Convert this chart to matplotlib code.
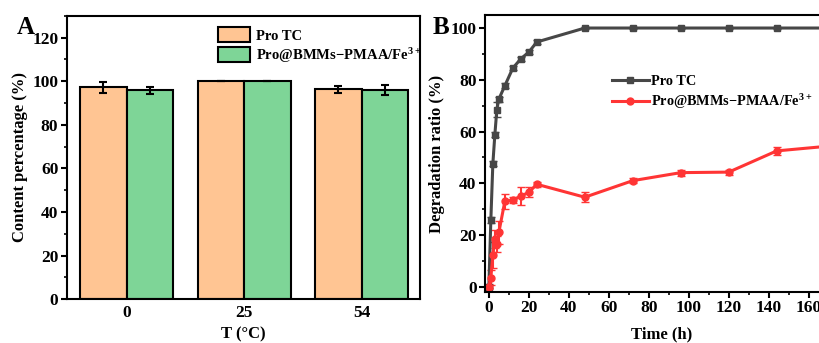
import matplotlib
matplotlib.use('Agg')
import matplotlib.pyplot as plt
from matplotlib.ticker import MultipleLocator, AutoMinorLocator
from matplotlib.lines import Line2D
import numpy as np

plt.rcParams['font.family'] = ['Liberation Serif', 'DejaVu Serif']
plt.rcParams['font.weight'] = 'bold'
plt.rcParams['axes.labelweight'] = 'bold'
plt.rcParams['mathtext.fontset'] = 'custom'
plt.rcParams['mathtext.rm'] = 'Liberation Serif:bold'
plt.rcParams['mathtext.bf'] = 'Liberation Serif:bold'
plt.rcParams['mathtext.default'] = 'bf'

# panel A: content vs temperature
temps = ['0', '25', '54']
tc_content = [97.1, 100.0, 96.2]
tc_err = [2.4, 0.0, 1.8]
pro_content = [95.8, 100.0, 96.0]
pro_err = [1.7, 0.0, 2.4]

# panel B: degradation vs time
time_h = [0, 1, 2, 3, 4, 5, 8, 12, 16, 20, 24, 48, 72, 96, 120, 144, 168]
tc_deg = [0, 25.8, 47.5, 58.7, 68.5, 72.5, 77.7, 84.5, 88.1, 90.7, 94.6,
          100, 100, 100, 100, 100, 100]
tc_deg_err = [0.5, 1.2, 1.0, 1.0, 3.0, 1.0, 1.0, 0.8, 0.8, 0.8, 0.6,
              0.3, 0.3, 0.3, 0.3, 0.3, 0.3]
pro_deg = [0, 3.5, 12.3, 18.3, 16.5, 21.0, 33.0, 33.5, 35.0, 36.5, 39.6,
           34.6, 41.0, 44.1, 44.3, 52.5, 54.2]
pro_deg_err = [1.0, 3.0, 5.0, 3.5, 3.0, 4.5, 2.8, 1.2, 3.5, 2.0, 1.0,
               2.0, 1.0, 1.2, 1.0, 1.5, 1.0]

names = ['Pro TC', 'Pro@BMMs\u2212PMAA/Fe$^{3+}$']

orange = '#FFC593'
green = '#7ED597'
gray = '#474747'
red = '#FF3535'

fig = plt.figure(figsize=(8.19, 3.43), dpi=100)
ax1 = fig.add_axes([0.0814, 0.128, 0.432, 0.826])
ax2 = fig.add_axes([0.592, 0.149, 0.432, 0.807])

# ---- A
x = np.arange(len(temps))
w = 0.395
ek = dict(ecolor='black', elinewidth=1.5, capsize=3, capthick=1.5)
ax1.bar(x - w / 2, tc_content, w, color=orange, edgecolor='black', lw=1.5,
        yerr=tc_err, error_kw=ek, label=names[0])
ax1.bar(x + w / 2, pro_content, w, color=green, edgecolor='black', lw=1.5,
        yerr=pro_err, error_kw=ek, label=names[1])
ax1.set_xlim(-0.51, 2.5)
ax1.set_ylim(0, 130)
ax1.set_xticks(x)
ax1.set_xticklabels(temps)
ax1.yaxis.set_major_locator(MultipleLocator(20))
ax1.yaxis.set_minor_locator(MultipleLocator(10))
ax1.tick_params(axis='x', length=0, labelsize=12.5, pad=4)
ax1.tick_params(axis='y', which='major', length=4, width=1.5, labelsize=12.5,
                pad=2)
ax1.tick_params(axis='y', which='minor', length=2.5, width=1.2)
ax1.set_xlabel('T (°C)', fontsize=12, labelpad=4)
ax1.set_ylabel('Content percentage (%)', fontsize=12)
ax1.yaxis.set_label_coords(-0.11, 0.5)
ax1.legend(loc='upper left', bbox_to_anchor=(0.4, 0.995), frameon=False,
           fontsize=10.5, handlelength=2.2, handleheight=1.2,
           borderaxespad=0.3, handletextpad=0.35, labelspacing=0.2)
for s in ax1.spines.values():
    s.set_linewidth(1.5)
fig.text(0.02, 0.9, 'A', fontsize=18, fontweight='bold')

# ---- B
ax2.errorbar(time_h, tc_deg, yerr=tc_deg_err, color=gray, lw=2.2,
             marker='s', ms=5, capsize=3, elinewidth=1.5)
ax2.errorbar(time_h, pro_deg, yerr=pro_deg_err, color=red, lw=2.2,
             marker='o', ms=5, capsize=3, elinewidth=1.5)
ax2.set_xlim(-2, 175)
ax2.set_ylim(-2, 105)
ax2.xaxis.set_major_locator(MultipleLocator(20))
ax2.xaxis.set_minor_locator(AutoMinorLocator(2))
ax2.yaxis.set_major_locator(MultipleLocator(20))
ax2.yaxis.set_minor_locator(AutoMinorLocator(2))
ax2.tick_params(which='major', length=4, width=1.5, labelsize=12.5, pad=2)
ax2.tick_params(which='minor', length=2.5, width=1.2)
ax2.set_xlabel('Time (h)', fontsize=12, labelpad=7)
ax2.set_ylabel('Degradation ratio (%)', fontsize=12)
ax2.yaxis.set_label_coords(-0.113, 0.5)
handles = [Line2D([], [], color=gray, lw=2.2, marker='s', ms=5),
           Line2D([], [], color=red, lw=2.2, marker='o', ms=5)]
ax2.legend(handles, names, loc='upper left', bbox_to_anchor=(0.322, 0.83),
           frameon=False, fontsize=10.3, handlelength=2.6, handletextpad=0.15,
           labelspacing=0.3)
for s in ax2.spines.values():
    s.set_linewidth(1.5)
fig.text(0.528, 0.9, 'B', fontsize=18, fontweight='bold')

fig.savefig('out.png', dpi=100)
